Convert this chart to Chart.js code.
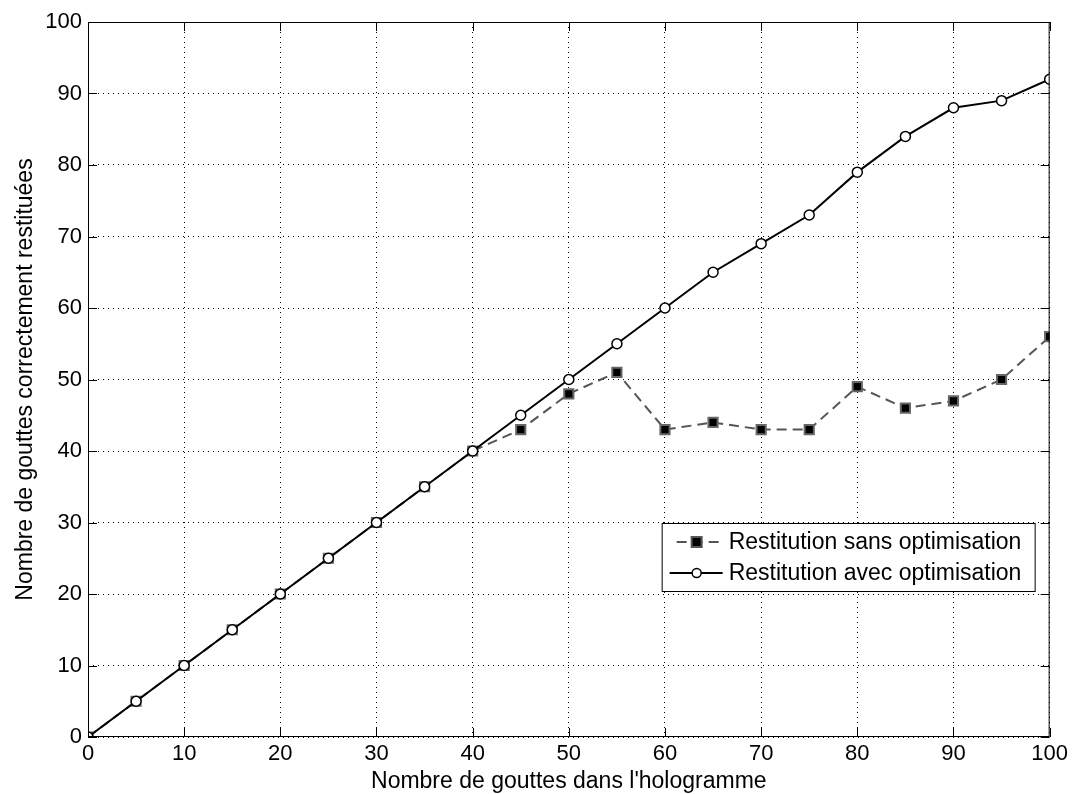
<!DOCTYPE html>
<html>
<head>
<meta charset="utf-8">
<script src="https://cdn.jsdelivr.net/npm/chart.js@4.4.0/dist/chart.umd.min.js"></script>
<style>
  html, body { margin: 0; padding: 0; background: #fff; }
  canvas { display: block; }
</style>
</head>
<body>
<canvas id="graph" width="1074" height="794"></canvas>
<script>
// donnees
const gouttes = [0, 5, 10, 15, 20, 25, 30, 35, 40, 45, 50, 55, 60, 65, 70, 75, 80, 85, 90, 95, 100];
const sansOptim = [0, 5, 10, 15, 20, 25, 30, 35, 40, 43, 48, 51, 43, 44, 43, 43, 49, 46, 47, 50, 56];
const avecOptim = [0, 5, 10, 15, 20, 25, 30, 35, 40, 45, 50, 55, 60, 65, 69, 73, 79, 84, 88, 89, 92];
const xTicks = [0, 10, 20, 30, 40, 50, 60, 70, 80, 90, 100];
const yTicks = [0, 10, 20, 30, 40, 50, 60, 70, 80, 90, 100];
const nomsSeries = ["Restitution sans optimisation", "Restitution avec optimisation"];

const police = "'Liberation Sans', Arial, Helvetica, sans-serif";

function pts(vals) {
    return gouttes.map((g, i) => ({ x: g, y: vals[i] }));
}

// cadre + petits traits vers l'interieur (style matlab)
const cadre = {
    id: "cadre",
    afterDatasetsDraw(chart) {
        const c = chart.ctx;
        const a = chart.chartArea;
        const sx = chart.scales.x, sy = chart.scales.y;
        c.save();
        c.strokeStyle = "#000";
        c.lineWidth = 1;
        c.setLineDash([]);
        c.strokeRect(a.left + 0.5, a.top + 0.5, a.right - a.left - 1, a.bottom - a.top - 1);
        c.beginPath();
        xTicks.forEach(t => {
            const px = Math.round(sx.getPixelForValue(t)) + 0.5;
            c.moveTo(px, a.bottom); c.lineTo(px, a.bottom - 9);
            c.moveTo(px, a.top); c.lineTo(px, a.top + 9);
        });
        yTicks.forEach(t => {
            const py = Math.round(sy.getPixelForValue(t)) + 0.5;
            c.moveTo(a.left, py); c.lineTo(a.left + 9, py);
            c.moveTo(a.right, py); c.lineTo(a.right - 9, py);
        });
        c.stroke();
        c.restore();
    },
    afterDraw(chart) {
        // legende dans le graphe
        const c = chart.ctx;
        const a = chart.chartArea;
        const x0 = a.right - 388, y0 = a.top + 501, w = 373, h = 68;
        c.save();
        c.fillStyle = "#fff";
        c.fillRect(x0, y0, w, h);
        c.strokeStyle = "#000";
        c.lineWidth = 1;
        c.strokeRect(x0 + 0.5, y0 + 0.5, w, h);
        const rows = [y0 + 19, y0 + 50];
        // serie 1
        c.strokeStyle = "#555";
        c.lineWidth = 2;
        c.setLineDash([10, 6]);
        c.beginPath(); c.moveTo(x0 + 15, rows[0]); c.lineTo(x0 + 61, rows[0]); c.stroke();
        c.setLineDash([]);
        c.fillStyle = "#000";
        c.fillRect(x0 + 30, rows[0] - 5, 10, 10);
        c.strokeRect(x0 + 30, rows[0] - 5, 10, 10);
        // serie 2
        c.strokeStyle = "#000";
        c.beginPath(); c.moveTo(x0 + 8, rows[1]); c.lineTo(x0 + 61, rows[1]); c.stroke();
        c.fillStyle = "#fff";
        c.lineWidth = 1.5;
        c.beginPath(); c.arc(x0 + 35, rows[1], 4.5, 0, Math.PI * 2); c.fill(); c.stroke();
        c.fillStyle = "#000";
        c.font = "23px " + police;
        c.textBaseline = "middle";
        c.fillText(nomsSeries[0], x0 + 67, rows[0] + 1);
        c.fillText(nomsSeries[1], x0 + 67, rows[1] + 1);
        c.restore();
    }
};

const ctx = document.getElementById("graph");
new Chart(ctx, {
    type: "line",
    data: {
        datasets: [
            {
                label: nomsSeries[0],
                data: pts(sansOptim),
                borderColor: "#555",
                borderWidth: 2,
                borderDash: [10, 6],
                pointStyle: "rect",
                pointRadius: 6.5,
                pointBackgroundColor: "#000",
                pointBorderColor: "#666",
                pointBorderWidth: 2,
                tension: 0,
                order: 2
            },
            {
                label: nomsSeries[1],
                data: pts(avecOptim),
                borderColor: "#000",
                borderWidth: 2,
                pointStyle: "circle",
                pointRadius: 5,
                pointBackgroundColor: "#fff",
                pointBorderColor: "#000",
                pointBorderWidth: 1.5,
                tension: 0,
                order: 1
            }
        ]
    },
    options: {
        responsive: false,
        animation: false,
        maintainAspectRatio: false,
        devicePixelRatio: 1,
        layout: { padding: { top: 22, right: 17, left: 0, bottom: 0 } },
        plugins: {
            legend: { display: false },
            tooltip: { enabled: false }
        },
        scales: {
            x: {
                type: "linear",
                min: 0, max: 100,
                afterFit: s => { s.height = 57; },
                afterBuildTicks: s => { s.ticks = xTicks.map(v => ({ value: v })); },
                ticks: { color: "#000", font: { family: police, size: 22, lineHeight: 1 }, padding: 6, maxRotation: 0 },
                grid: { color: "#000", lineWidth: 1, drawTicks: false },
                border: { display: false, dash: [1, 4] },
                title: {
                    display: true,
                    text: "Nombre de gouttes dans l'hologramme",
                    color: "#000",
                    font: { family: police, size: 23, lineHeight: 1 },
                    padding: { top: 0, bottom: 1 }
                }
            },
            y: {
                type: "linear",
                min: 0, max: 100,
                afterFit: s => { s.width = 88; },
                afterBuildTicks: s => { s.ticks = yTicks.map(v => ({ value: v })); },
                ticks: { color: "#000", font: { family: police, size: 22 }, padding: 6 },
                grid: { color: "#000", lineWidth: 1, drawTicks: false },
                border: { display: false, dash: [1, 4] },
                title: {
                    display: true,
                    text: "Nombre de gouttes correctement restituées",
                    color: "#000",
                    font: { family: police, size: 23, lineHeight: 1 },
                    padding: { top: 14, bottom: 0 }
                }
            }
        }
    },
    plugins: [cadre]
});
</script>
</body>
</html>
